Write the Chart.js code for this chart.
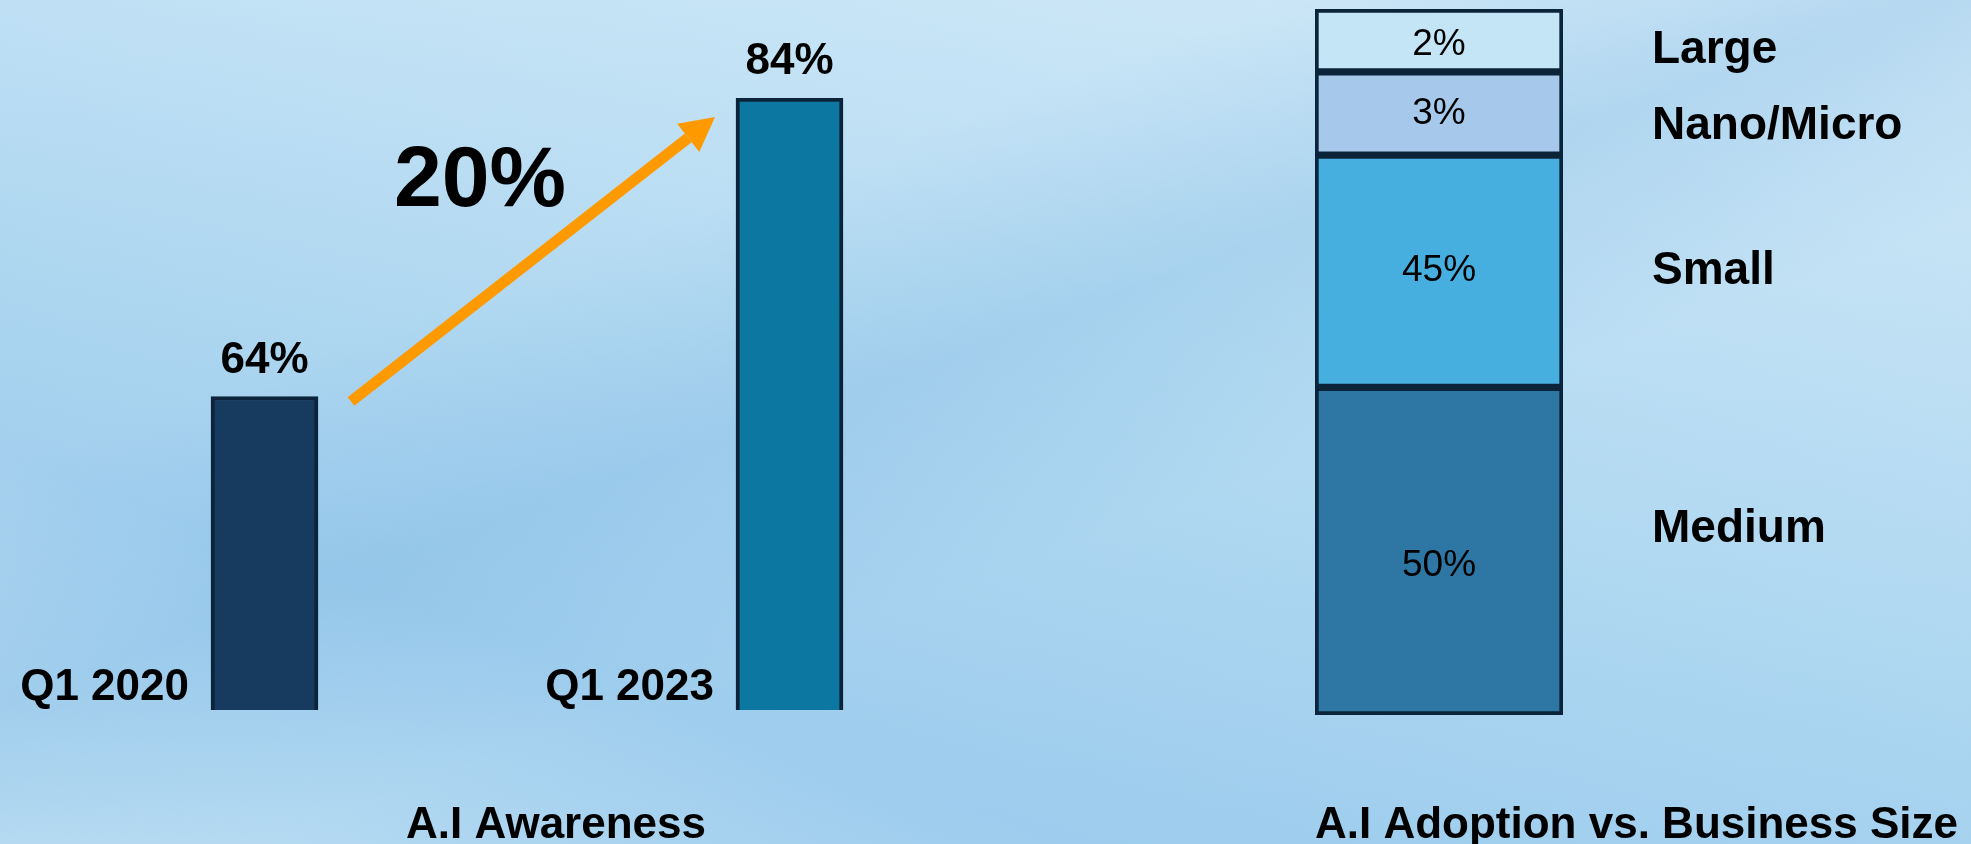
<!DOCTYPE html>
<html>
<head>
<meta charset="utf-8">
<script src="https://cdn.jsdelivr.net/npm/chart.js@4.4.1/dist/chart.umd.min.js"></script>
<style>
  html, body { margin: 0; padding: 0; }
  body {
    width: 1971px;
    height: 844px;
    overflow: hidden;
    position: relative;
    background:
      linear-gradient(160deg, rgba(255,255,255,0) 30%, rgba(120,180,225,0.3) 45%, rgba(255,255,255,0) 60%),
      linear-gradient(200deg, rgba(255,255,255,0.25) 0%, rgba(255,255,255,0) 40%, rgba(110,175,225,0.25) 75%, rgba(255,255,255,0.2) 100%),
      linear-gradient(180deg, #c2e2f5 0%, #b5dbf2 50%, #acd6f1 100%);
  }
  canvas { position: absolute; top: 0; }
  #awarenessChart { left: 0; }
  #adoptionChart { left: 1200px; }
</style>
</head>
<body>
<canvas id="awarenessChart" width="1100" height="844"></canvas>
<canvas id="adoptionChart" width="771" height="844"></canvas>
<script>
// A.I Awareness
const awarenessPeriods = ["Q1 2020", "Q1 2023"];
const awarenessValues = [64, 84];
const awarenessColors = ["#173a5f", "#0c77a1"];
const awarenessGrowth = "20%";

// A.I Adoption vs. Business Size (bottom to top)
const sizeCategories = ["Medium", "Small", "Nano/Micro", "Large"];
const sizeShareLabels = ["50%", "45%", "3%", "2%"];
// segment heights as drawn in the picture (share of the full bar)
const sizeSegmentHeights = [46.4, 32.9, 11.8, 8.9];
const sizeColors = ["#2e77a4", "#47afe0", "#a6c9eb", "#c3e5f6"];

const borderDark = "#0c2439";
const fontFamily = "'Liberation Sans', Arial, sans-serif";

Chart.defaults.animation = false;

function drawArrow(ctx, x1, y1, x2, y2) {
  const ang = Math.atan2(y2 - y1, x2 - x1);
  const head = 34;
  const bx = x2 - head * Math.cos(ang);
  const by = y2 - head * Math.sin(ang);
  ctx.save();
  ctx.strokeStyle = "#ff9900";
  ctx.fillStyle = "#ff9900";
  ctx.lineWidth = 11;
  ctx.beginPath();
  ctx.moveTo(x1, y1);
  ctx.lineTo(bx, by);
  ctx.stroke();
  ctx.beginPath();
  ctx.moveTo(x2, y2);
  ctx.lineTo(bx + 18 * Math.sin(ang), by - 18 * Math.cos(ang));
  ctx.lineTo(bx - 18 * Math.sin(ang), by + 18 * Math.cos(ang));
  ctx.closePath();
  ctx.fill();
  ctx.restore();
}

const awarenessLabels = {
  id: "awarenessLabels",
  afterDatasetsDraw(chart) {
    const ctx = chart.ctx;
    const bars = chart.getDatasetMeta(0).data;
    ctx.save();
    ctx.fillStyle = "#000";
    bars.forEach((bar, i) => {
      const left = bar.x - bar.width / 2;
      ctx.font = "bold 44px " + fontFamily;
      ctx.textAlign = "center";
      ctx.textBaseline = "alphabetic";
      ctx.fillText(awarenessValues[i] + "%", bar.x, bar.y - 24);
      ctx.textAlign = "right";
      ctx.fillText(awarenessPeriods[i], left - 22, chart.chartArea.bottom - 10);
    });
    const b1 = bars[0], b2 = bars[1];
    drawArrow(ctx, b1.x + b1.width / 2 + 33, b1.y + 5, b2.x - b2.width / 2 - 21, b2.y + 19);
    ctx.font = "bold 86px " + fontFamily;
    ctx.textAlign = "center";
    ctx.textBaseline = "middle";
    ctx.fillText(awarenessGrowth, (b1.x + b2.x) / 2 - 47, 182);
    ctx.font = "bold 44px " + fontFamily;
    ctx.fillText("A.I Awareness", 556, 826);
    ctx.restore();
  }
};

new Chart(document.getElementById("awarenessChart"), {
  type: "bar",
  data: {
    labels: awarenessPeriods,
    datasets: [{
      data: awarenessValues,
      backgroundColor: awarenessColors,
      borderColor: borderDark,
      borderWidth: 4,
      borderSkipped: false,
      barThickness: 107
    }]
  },
  options: {
    responsive: false,
    layout: { padding: { left: 2, right: 48, top: 98, bottom: 134 } },
    plugins: { legend: { display: false }, tooltip: { enabled: false } },
    scales: {
      x: { display: false },
      y: { display: false, min: 43, max: 84 }
    }
  },
  plugins: [awarenessLabels]
});

// small nudges so the names sit where the picture has them
const nameNudge = { "Medium": -22, "Small": 0, "Nano/Micro": 13, "Large": 10 };
const valueNudge = { "Medium": 15, "Small": 0, "Nano/Micro": 0, "Large": 4 };

const adoptionLabels = {
  id: "adoptionLabels",
  afterDatasetsDraw(chart) {
    const ctx = chart.ctx;
    ctx.save();
    ctx.fillStyle = "#000";
    chart.data.datasets.forEach((ds, i) => {
      const bar = chart.getDatasetMeta(i).data[0];
      const mid = (bar.y + bar.base) / 2;
      const name = sizeCategories[i];
      ctx.font = "37px " + fontFamily;
      ctx.textAlign = "center";
      ctx.textBaseline = "middle";
      ctx.fillText(sizeShareLabels[i], bar.x, mid + valueNudge[name]);
      ctx.font = "bold 46px " + fontFamily;
      ctx.textAlign = "left";
      ctx.fillText(name, bar.x + bar.width / 2 + 89, mid + nameNudge[name]);
    });
    ctx.font = "bold 44px " + fontFamily;
    ctx.textAlign = "left";
    ctx.textBaseline = "middle";
    ctx.fillText("A.I Adoption vs. Business Size", 115, 826);
    ctx.restore();
  }
};

new Chart(document.getElementById("adoptionChart"), {
  type: "bar",
  data: {
    labels: ["All"],
    datasets: sizeCategories.map((name, i) => ({
      label: name,
      data: [sizeSegmentHeights[i]],
      backgroundColor: sizeColors[i],
      borderColor: borderDark,
      borderWidth: 4,
      borderSkipped: false,
      barPercentage: 1,
      categoryPercentage: 1
    }))
  },
  options: {
    responsive: false,
    layout: { padding: { left: 115, right: 408, top: 9, bottom: 129 } },
    plugins: { legend: { display: false }, tooltip: { enabled: false } },
    scales: {
      x: { display: false, stacked: true },
      y: { display: false, stacked: true, min: 0, max: 100 }
    }
  },
  plugins: [adoptionLabels]
});
</script>
</body>
</html>
